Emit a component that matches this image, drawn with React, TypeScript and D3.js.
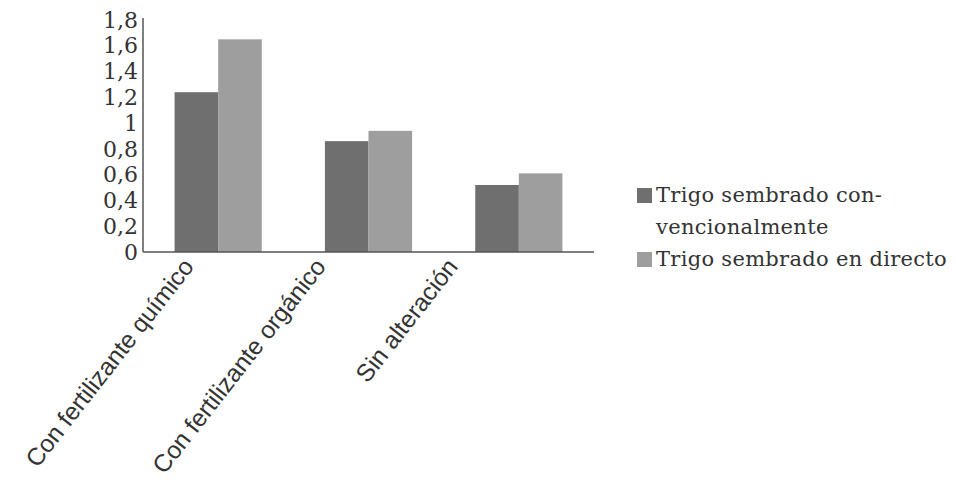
import React from "react";
import * as d3 from "d3";

const categories = ["Con fertilizante químico", "Con fertilizante orgánico", "Sin alteración"];
const seriesNames = ["Trigo sembrado convencionalmente", "Trigo sembrado en directo"];
const convencional = [1.24, 0.86, 0.52];
const directo = [1.65, 0.94, 0.61];
const yTicks = [0, 0.2, 0.4, 0.6, 0.8, 1, 1.2, 1.4, 1.6, 1.8];
const legendLines = [["Trigo sembrado con-", "vencionalmente"], ["Trigo sembrado en directo"]];

const W = 956;
const H = 486;
const colors = ["#6f6f6f", "#9e9e9e"];

export default function App() {
  const left = 143;
  const right = 594;
  const top = 20;
  const bottom = 252;

  const x = d3.scaleBand<string>().domain(categories).range([left, right]).paddingInner(0.42).paddingOuter(0.21);
  const sub = d3.scaleBand<string>().domain(seriesNames).range([0, x.bandwidth()]);
  const y = d3.scaleLinear().domain([0, 1.8]).range([bottom, top]);
  // anchor points for the slanted category labels
  const labelX = d3.scalePoint<string>().domain(categories).range([195, 459]);

  const values = [convencional, directo];
  const fmt = (v: number) => String(Math.round(v * 10) / 10).replace(".", ",");

  return (
    <svg width={W} height={H} style={{ display: "block", position: "absolute", left: 0, top: 0, background: "#fff" }}>
      {/* bars */}
      {categories.map((c, i) =>
        seriesNames.map((s, j) => (
          <rect
            key={c + s}
            x={(x(c) ?? 0) + (sub(s) ?? 0)}
            y={y(values[j][i])}
            width={sub.bandwidth()}
            height={y(0) - y(values[j][i])}
            fill={colors[j]}
          />
        ))
      )}
      {/* axes */}
      <line x1={left} x2={left} y1={top - 2} y2={bottom} stroke="#555" strokeWidth={1.5} />
      <line x1={left} x2={right} y1={bottom} y2={bottom} stroke="#555" strokeWidth={1.5} />
      {yTicks.map((t) => (
        <text
          key={t}
          x={left - 5}
          y={y(t)}
          dy="0.35em"
          textAnchor="end"
          fontFamily="DejaVu Serif"
          fontSize={22}
          fill="#333"
        >
          {fmt(t)}
        </text>
      ))}
      {/* category labels */}
      {categories.map((c) => (
        <text
          key={c}
          transform={`translate(${labelX(c)},${267}) rotate(-52)`}
          textAnchor="end"
          fontFamily="Liberation Sans"
          fontSize={24.5}
          fill="#333"
        >
          {c}
        </text>
      ))}
      {/* legend */}
      {legendLines.map((lines, j) => {
        const y0 = j === 0 ? 195 : 259;
        return (
          <g key={j}>
            <rect x={637} y={y0 - 7} width={15} height={15} fill={colors[j]} />
            {lines.map((ln, k) => (
              <text
                key={k}
                x={656}
                y={y0 + k * 32}
                dy="0.35em"
                fontFamily="DejaVu Serif"
                fontSize={21}
                letterSpacing={0.3}
                fill="#333"
              >
                {ln}
              </text>
            ))}
          </g>
        );
      })}
    </svg>
  );
}
